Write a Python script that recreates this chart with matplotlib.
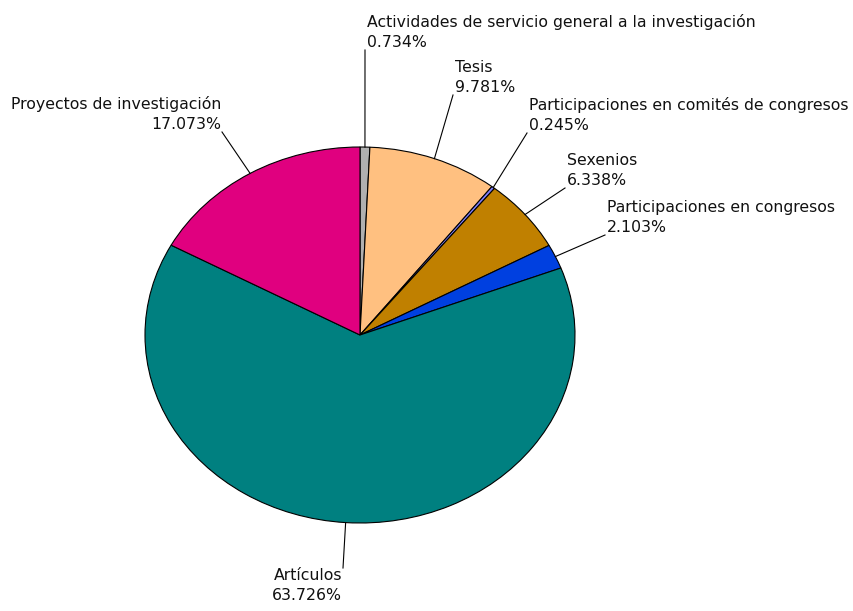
import numpy as np
import matplotlib
matplotlib.use("Agg")
import matplotlib.pyplot as plt

labels = ["Actividades de servicio general a la investigación", "Tesis",
          "Participaciones en comités de congresos", "Sexenios",
          "Participaciones en congresos", "Artículos", "Proyectos de investigación"]
values = [0.734, 9.781, 0.245, 6.338, 2.103, 63.726, 17.073]
colors = ["#b0b0b0", "#ffc080", "#8080ff", "#c08000", "#0040e0", "#008080", "#e0007f"]

# where each leader line ends (pixels from top-left) and how the text hangs off it
label_pos = [(365, 50), (453, 95), (527, 133), (565, 188), (605, 235), (343, 568), (222, 132)]
label_anchor = [("left", "bottom"), ("left", "bottom"), ("left", "bottom"), ("left", "bottom"),
                ("left", "bottom"), ("right", "top"), ("right", "bottom")]

W, H = 854, 611
fig = plt.figure(figsize=(W / 100, H / 100), dpi=100)
ax = fig.add_axes([0, 0, 1, 1])
ax.axis("off")

# pie centre and radii in pixels (the pie is a bit squashed vertically)
cx, cy, rx, ry = 360, 335, 215, 188

wedges, _ = ax.pie(values, colors=colors, startangle=90, counterclock=False,
                   wedgeprops=dict(edgecolor="black", linewidth=0.8), frame=False)
ax.set_aspect("auto")
ax.set_xlim(-cx / rx, (W - cx) / rx)
ax.set_ylim(-(H - cy) / ry, cy / ry)


def px_to_data(px, py):
    return ((px - cx) / rx, (cy - py) / ry)


for w, lab, val, pos, (ha, va) in zip(wedges, labels, values, label_pos, label_anchor):
    ang = np.deg2rad((w.theta1 + w.theta2) / 2)
    x0, y0 = np.cos(ang), np.sin(ang)
    x1, y1 = px_to_data(*pos)
    ax.plot([x0, x1], [y0, y1], color="black", lw=0.8)
    tx = x1 + (2 / rx if ha == "left" else -1 / rx)
    ax.text(tx, y1, f"{lab}\n{val:.3f}%", ha=ha, va=va, multialignment=ha,
            fontsize=11.3, linespacing=1.4, color="#111111")

fig.savefig("out.png", dpi=100)
